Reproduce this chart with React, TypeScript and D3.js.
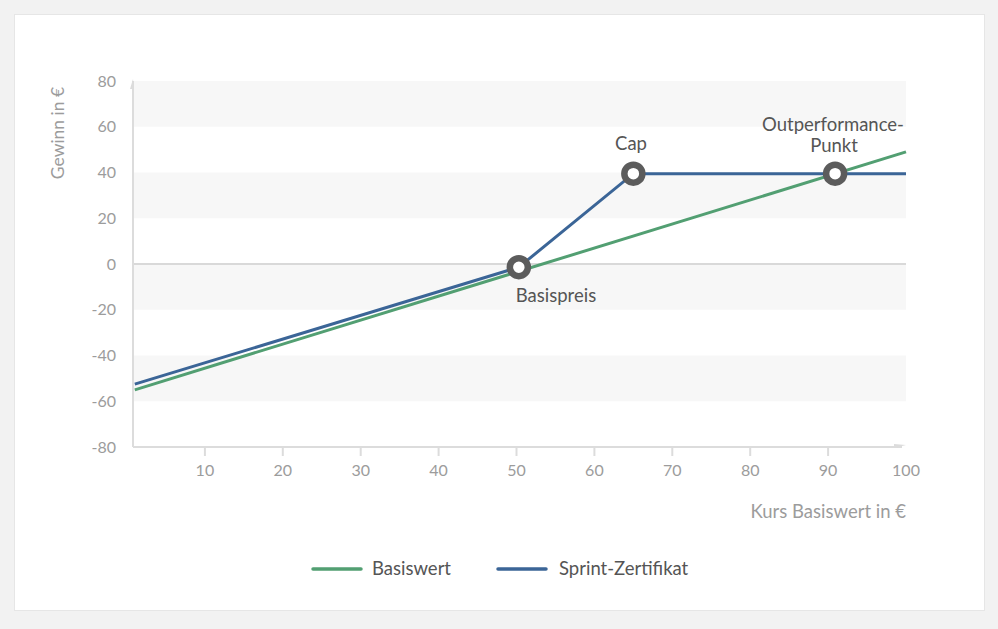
import React from "react";
import * as d3 from "d3";

const basiswertX = [1, 100];
const basiswertY = [-55, 49];
const sprintX = [1, 50.3, 65, 100];
const sprintY = [-52.5, -1.4, 39.5, 39.5];
const markerX = [50.3, 65, 90.9];
const markerY = [-1.4, 39.5, 39.5];
const xTicks = [10, 20, 30, 40, 50, 60, 70, 80, 90];
const yTicks = [-80, -60, -40, -20, 0, 20, 40, 60, 80];
const bands = [[60, 80], [20, 40], [-20, 0], [-60, -40]];
const seriesNames = ["Basiswert", "Sprint-Zertifikat"];

const W = 998, H = 629;
const GREEN = "#529f72";
const BLUE = "#3b6597";
const FONT = "Lato, 'Open Sans', sans-serif";

export default function App() {
  const x = d3.scaleLinear().domain([0, 100]).range([127, 906]);
  const y = d3.scaleLinear().domain([-80, 80]).range([447, 81]);
  const left = 133, right = 906;
  const line = d3.line<[number, number]>().x(d => x(d[0])).y(d => y(d[1]));
  const greenPts: [number, number][] = basiswertX.map((v, i) => [v, basiswertY[i]]);
  const bluePts: [number, number][] = sprintX.map((v, i) => [v, sprintY[i]]);

  return (
    <svg width={W} height={H} style={{ position: "absolute", left: 0, top: 0 }} fontFamily={FONT}>
      <rect x={0} y={0} width={W} height={H} fill="#f2f2f2" />
      <rect x={14.5} y={14.5} width={970} height={596} fill="#fff" stroke="#e6e6e6" />
      {bands.map((b, i) => (
        <rect key={i} x={left} width={right - left} y={y(b[1])} height={y(b[0]) - y(b[1])} fill="#f7f7f7" />
      ))}
      <line x1={left} x2={right} y1={y(0)} y2={y(0)} stroke="#d9d9d9" strokeWidth={2} />
      <line x1={left} x2={left} y1={y(80)} y2={y(-80)} stroke="#dcdcdc" strokeWidth={2} />
      <path d={`M${left - 3},${y(80) + 8} L${left},${y(80) - 2} L${left + 1},${y(80) + 8} Z`} fill="#dcdcdc" />
      <line x1={left} x2={right - 4} y1={y(-80)} y2={y(-80)} stroke="#dcdcdc" strokeWidth={2} />
      <path d={`M${right - 12},${y(-80) - 3} L${right},${y(-80) - 2} L${right - 12},${y(-80) + 1} Z`} fill="#dcdcdc" />
      {xTicks.map(t => (
        <line key={t} x1={x(t)} x2={x(t)} y1={y(-80)} y2={y(-80) + 9} stroke="#dcdcdc" strokeWidth={2} />
      ))}
      {[...xTicks, 100].map(t => (
        <text key={t} x={x(t)} y={476} textAnchor="middle" fontSize={16} fill="#9c9c9c">{t}</text>
      ))}
      {yTicks.map(t => (
        <text key={t} x={116} y={y(t) + 5.5} textAnchor="end" fontSize={16} fill="#9c9c9c">{t}</text>
      ))}
      <text transform={`translate(64,133) rotate(-90)`} textAnchor="middle" fontSize={17.5} fill="#9c9c9c">Gewinn in €</text>
      <text x={906} y={518} textAnchor="end" fontSize={18.5} fill="#9c9c9c">Kurs Basiswert in €</text>

      <path d={line(greenPts) || ""} fill="none" stroke={GREEN} strokeWidth={3} />
      <path d={line(bluePts) || ""} fill="none" stroke={BLUE} strokeWidth={3} />

      {markerX.map((mx, i) => (
        <circle key={i} cx={x(mx)} cy={y(markerY[i])} r={9} fill="#fff" stroke="#5c5c5c" strokeWidth={6.5} />
      ))}
      <text x={556} y={302} textAnchor="middle" fontSize={18.5} fill="#555">Basispreis</text>
      <text x={631} y={150} textAnchor="middle" fontSize={18.5} fill="#555">Cap</text>
      <text x={833} y={131} textAnchor="middle" fontSize={18.5} fill="#555">Outperformance-</text>
      <text x={834} y={152} textAnchor="middle" fontSize={18.5} fill="#555">Punkt</text>

      <line x1={313} x2={361} y1={569} y2={569} stroke={GREEN} strokeWidth={3.5} strokeLinecap="round" />
      <text x={372} y={575} fontSize={18.5} fill="#555">{seriesNames[0]}</text>
      <line x1={498} x2={546} y1={569} y2={569} stroke={BLUE} strokeWidth={3.5} strokeLinecap="round" />
      <text x={559} y={575} fontSize={18.5} fill="#555">{seriesNames[1]}</text>
    </svg>
  );
}
